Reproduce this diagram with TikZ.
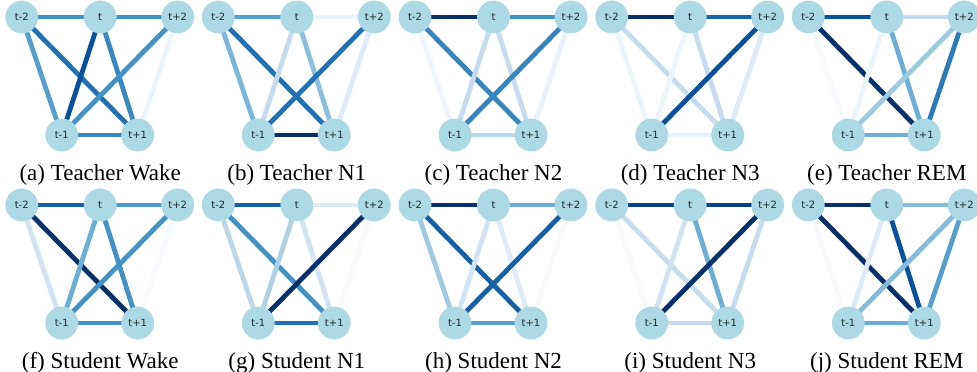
\documentclass[tikz,border=0pt]{standalone}
\usepackage{fontspec}
\setmainfont{Liberation Serif}
\newfontfamily\labelfont{DejaVu Sans}
\usetikzlibrary{backgrounds}

% Blues colour scale
\definecolor{bl0}{HTML}{F7FBFF}
\definecolor{bl1}{HTML}{DEEBF7}
\definecolor{bl2}{HTML}{C6DBEF}
\definecolor{bl3}{HTML}{9ECAE1}
\definecolor{bl4}{HTML}{6BAED6}
\definecolor{bl5}{HTML}{4292C6}
\definecolor{bl6}{HTML}{2171B5}
\definecolor{bl7}{HTML}{08519C}
\definecolor{bl8}{HTML}{08306B}
\definecolor{nodeblue}{HTML}{ADD8E6}

\tikzset{
  vert/.style={circle, fill=nodeblue, minimum size=32.8pt, inner sep=0pt,
    font=\labelfont\fontsize{10}{12}\selectfont, text=black!85},
  link/.style={line width=4.8pt, line cap=butt},
  captext/.style={font=\fontsize{23}{27}\selectfont, inner sep=0pt, text=black}
}

% five time-step nodes and the caption of one panel
\newcommand\panel[4]{%
  \begin{scope}[shift={(#2,#3)}]
    \node[vert] (#1-tm2) at (0,0) {t-2};
    \node[vert] (#1-t)   at (78.5,0) {t};
    \node[vert] (#1-tp2) at (156,0) {t+2};
    \node[vert] (#1-tm1) at (40,118) {t-1};
    \node[vert] (#1-tp1) at (116,118) {t+1};
    \node[captext] (#1-cap) at (78.5,157.5) {#4};
  \end{scope}}

% weighted edges of one panel, behind its nodes
\newcommand\edgeset[2]{%
  \begin{scope}[on background layer]
    \foreach \c [count=\k] in {#2} {
      \ifcase\k\or
        \def\u{tm2}\def\v{t}\or
        \def\u{t}\def\v{tp2}\or
        \def\u{tm2}\def\v{tm1}\or
        \def\u{tm2}\def\v{tp1}\or
        \def\u{t}\def\v{tm1}\or
        \def\u{t}\def\v{tp1}\or
        \def\u{tp2}\def\v{tm1}\or
        \def\u{tp2}\def\v{tp1}\or
        \def\u{tm1}\def\v{tp1}\fi
      \draw[link, draw=\c] (#1-\u.center) -- (#1-\v.center);
    }
  \end{scope}}

\begin{document}
\begin{tikzpicture}[x=1pt, y=-1pt]
  \useasboundingbox (0,0) rectangle (977,372);

  \panel{a}{21.7}{17}{(a) Teacher Wake}
  \panel{b}{218.3}{17}{(b) Teacher N1}
  \panel{c}{415}{17}{(c) Teacher N2}
  \panel{d}{611.7}{17}{(d) Teacher N3}
  \panel{e}{808.3}{17}{(e) Teacher REM}
  \panel{f}{21.7}{205}{(f) Student Wake}
  \panel{g}{218.3}{205}{(g) Student N1}
  \panel{h}{415}{205}{(h) Student N2}
  \panel{i}{611.7}{205}{(i) Student N3}
  \panel{j}{808.3}{205}{(j) Student REM}

  \edgeset{a}{bl5, bl5, bl4!50!bl5, bl6, bl7, bl5!70!bl6, bl5, bl0!60!bl1, bl5!70!bl6}
  \edgeset{b}{bl4!50!bl5, bl1!50!bl0, bl4!70!bl3, bl6, bl2, bl3!60!bl4, bl6, bl1, bl8}
  \edgeset{c}{bl8, bl5, bl0!70!bl1, bl5!60!bl6, bl2, bl2, bl5!60!bl6, bl1!60!bl0, bl2!70!bl3}
  \edgeset{d}{bl8, bl6!60!bl7, bl0!60!bl1, bl2, bl0!60!bl1, bl2, bl7, bl1, bl1!70!bl0}
  \edgeset{e}{bl7, bl2, bl0, bl8, bl0!60!bl1, bl4, bl3, bl6!70!bl5, bl4}
  \edgeset{f}{bl6!50!bl7, bl5!70!bl4, bl1!50!bl2, bl8, bl4, bl5, bl5, bl0, bl5}
  \edgeset{g}{bl6!50!bl7, bl1, bl2!70!bl3, bl5, bl2!40!bl3, bl1!50!bl2, bl8, bl0, bl6}
  \edgeset{h}{bl8, bl4, bl3, bl6!50!bl7, bl1!50!bl2, bl1, bl6!50!bl7, bl0, bl4!50!bl5}
  \edgeset{i}{bl7!50!bl8, bl7!50!bl8, bl0, bl2, bl1!50!bl2, bl4, bl8, bl2, bl2}
  \edgeset{j}{bl8, bl3!50!bl4, bl0, bl8, bl1, bl7, bl3!50!bl4, bl4!50!bl5, bl4}
\end{tikzpicture}
\end{document}
